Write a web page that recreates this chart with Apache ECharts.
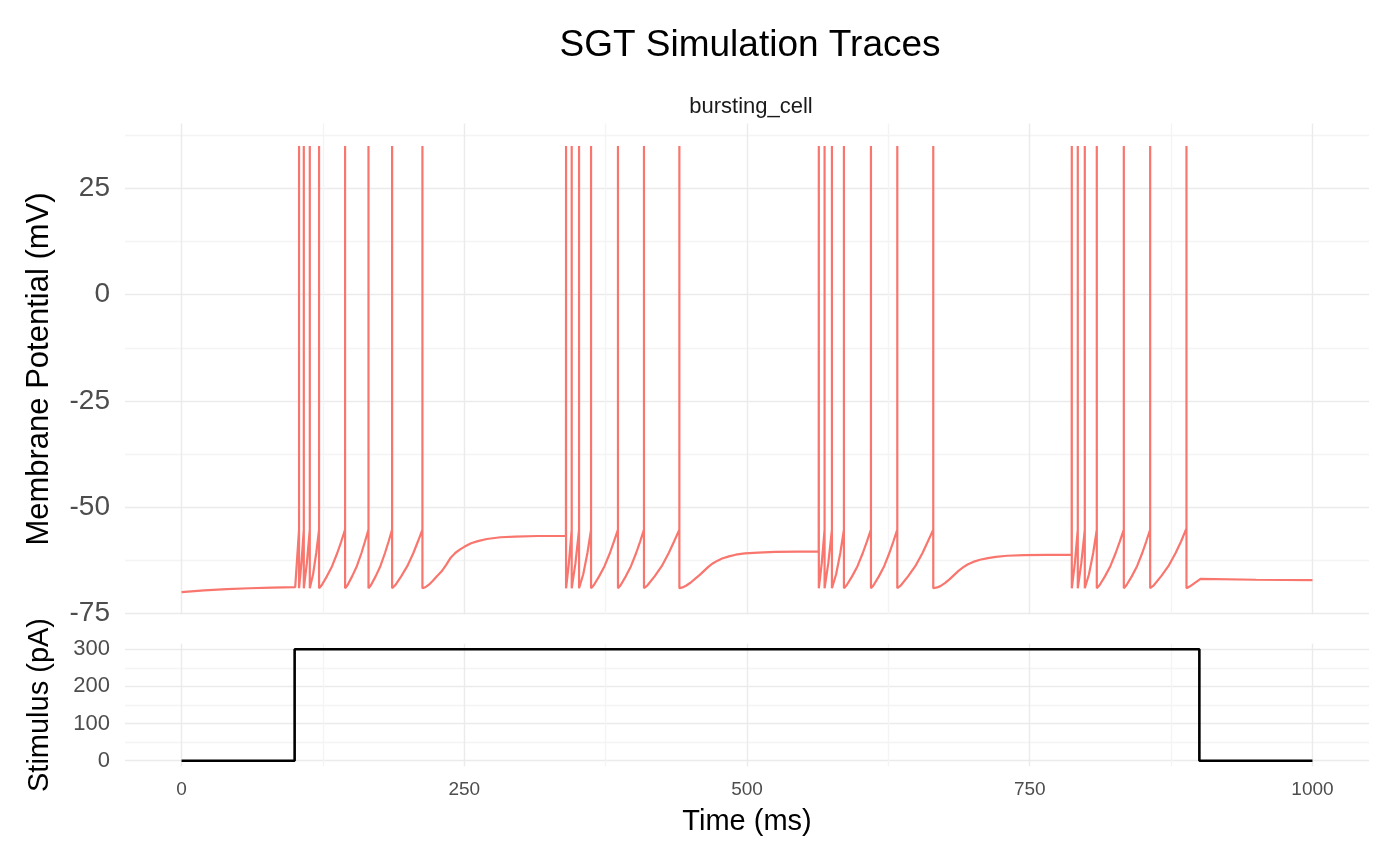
<!DOCTYPE html>
<html>
<head>
<meta charset="utf-8">
<title>SGT Simulation Traces</title>
<script src="https://cdn.jsdelivr.net/npm/echarts@6/dist/echarts.min.js"></script>
<style>
  html, body { margin: 0; padding: 0; background: #fff; }
  #chart { width: 1400px; height: 865px; }
</style>
</head>
<body>
<div id="chart"></div>
<script>
// membrane potential trace, [time ms, mV]
var preStim = [[0, -70.0], [20, -69.6], [40, -69.3], [60, -69.1], [80, -68.95], [100.5, -68.85]];

var burst1 = [
    [103.9, -55.3], [103.9, 35], [103.9, -69.1],
    [106.0, -63.2], [108.1, -55.3], [108.1, 35], [108.1, -69.1],
    [110.8, -63.2], [113.4, -55.3], [113.4, 35], [113.4, -69.1],
    [116.3, -65.8], [119.1, -60.8], [121.6, -55.3], [121.6, 35], [121.6, -69.1],
    [123.9, -68.4], [128.5, -66.3], [133.1, -63.9], [137.7, -60.8], [141.2, -58.1],
    [144.6, -55.3], [144.6, 35], [144.6, -69.1],
    [146.7, -68.4], [150.8, -66.3], [155.0, -63.9], [159.1, -60.8], [162.2, -58.1],
    [165.3, -55.3], [165.3, 35], [165.3, -69.1],
    [167.4, -68.4], [171.6, -66.3], [175.8, -63.9], [179.9, -60.8], [183.1, -58.1],
    [186.2, -55.3], [186.2, 35], [186.2, -69.1],
    [188.9, -68.4], [194.2, -66.3], [199.6, -63.9], [205.0, -60.8], [209.0, -58.1],
    [213.0, -55.3], [213.0, 35], [213.0, -69.1]
];
var recovery1 = [[216, -68.8], [219, -68.2], [222, -67.4], [226, -66.2], [230, -65.1],
    [234, -63.6], [238, -61.9], [242, -60.8], [246, -60.0], [250, -59.35], [256, -58.5],
    [262, -58.0], [270, -57.5], [282, -57.1], [295, -56.95], [315, -56.8], [339.9, -56.8]];

var burst2 = [
    [340.0, 35], [340.0, -69.1],
    [342.5, -63.2], [345.0, -55.3], [345.0, 35], [345.0, -69.1],
    [348.3, -63.2], [351.5, -55.3], [351.5, 35], [351.5, -69.1],
    [355.2, -65.8], [358.9, -60.8], [362.1, -55.3], [362.1, 35], [362.1, -69.1],
    [364.5, -68.4], [369.2, -66.3], [374.0, -63.9], [378.8, -60.8], [382.3, -58.1],
    [385.9, -55.3], [385.9, 35], [385.9, -69.1],
    [388.2, -68.4], [392.8, -66.3], [397.4, -63.9], [402.0, -60.8], [405.5, -58.1],
    [408.9, -55.3], [408.9, 35], [408.9, -69.1],
    [412.0, -68.4], [418.3, -66.3], [424.6, -63.9], [430.8, -60.8], [435.5, -58.1],
    [440.2, -55.3], [440.2, 35], [440.2, -69.1]
];
var recovery2 = [[443, -68.9], [446, -68.5], [450, -67.8], [454, -66.9], [458, -66.0],
    [462, -65.0], [466, -64.0], [470, -63.2], [474, -62.6], [478, -62.1], [484, -61.6],
    [490, -61.2], [498, -60.9], [510, -60.7], [525, -60.55], [545, -60.5], [563.4, -60.5]];

var burst3 = [
    [563.5, 35], [563.5, -69.1],
    [566.1, -63.2], [568.6, -55.3], [568.6, 35], [568.6, -69.1],
    [571.9, -63.2], [575.1, -55.3], [575.1, 35], [575.1, -69.1],
    [578.8, -65.8], [582.5, -60.8], [585.7, -55.3], [585.7, 35], [585.7, -69.1],
    [588.1, -68.4], [592.9, -66.3], [597.7, -63.9], [602.4, -60.8], [606.0, -58.1],
    [609.6, -55.3], [609.6, 35], [609.6, -69.1],
    [611.9, -68.4], [616.6, -66.3], [621.3, -63.9], [625.9, -60.8], [629.4, -58.1],
    [632.9, -55.3], [632.9, 35], [632.9, -69.1],
    [636.1, -68.4], [642.4, -66.3], [648.8, -63.9], [655.2, -60.8], [659.9, -58.1],
    [664.7, -55.3], [664.7, 35], [664.7, -69.1]
];
var recovery3 = [[668, -68.9], [671, -68.6], [675, -67.9], [679, -67.0], [683, -66.0],
    [687, -65.0], [691, -64.2], [695, -63.5], [700, -62.9], [706, -62.4], [713, -62.0],
    [720, -61.7], [730, -61.45], [745, -61.3], [765, -61.25], [787.1, -61.25]];

var burst4 = [
    [787.2, 35], [787.2, -69.1],
    [789.9, -63.2], [792.5, -55.3], [792.5, 35], [792.5, -69.1],
    [795.6, -63.2], [798.7, -55.3], [798.7, 35], [798.7, -69.1],
    [802.4, -65.8], [806.1, -60.8], [809.3, -55.3], [809.3, 35], [809.3, -69.1],
    [811.7, -68.4], [816.5, -66.3], [821.3, -63.9], [826.0, -60.8], [829.6, -58.1],
    [833.2, -55.3], [833.2, 35], [833.2, -69.1],
    [835.5, -68.4], [840.2, -66.3], [844.9, -63.9], [849.5, -60.8], [853.0, -58.1],
    [856.5, -55.3], [856.5, 35], [856.5, -69.1],
    [859.7, -68.4], [866.1, -66.3], [872.6, -63.9], [879.0, -60.8], [883.8, -58.1],
    [888.6, -55.0], [888.6, 35], [888.6, -69.1]
];
var tail = [[891.4, -68.7], [901, -66.9], [950, -67.1], [1000, -67.2]];

// stimulus current (pA)
var stimTime = [0, 100, 100, 900, 900, 1000];
var stimAmp = [0, 0, 300, 300, 0, 0];

// breaks: majors get labels, every break gets a grid line
var xGrid = [0, 125, 250, 375, 500, 625, 750, 875, 1000];
var xLabels = [0, 250, 500, 750, 1000];
var vGrid = [-75, -62.5, -50, -37.5, -25, -12.5, 0, 12.5, 25, 37.5];
var vLabels = [-75, -50, -25, 0, 25];
var sGrid = [0, 50, 100, 150, 200, 250, 300];
var sLabels = [0, 100, 200, 300];

var font = '"Liberation Sans", Arial, Helvetica, sans-serif';
var gridColors = ['#EBEBEB', '#F4F4F4'];

var membrane = [].concat(preStim, burst1, recovery1, burst2, recovery2, burst3, recovery3, burst4, tail);
var stimulus = [];
for (var i = 0; i < stimTime.length; i++) {
    stimulus.push([stimTime[i], stimAmp[i]]);
}

var dom = document.getElementById('chart');
var myChart = echarts.init(dom);

var option = {
    animation: false,
    backgroundColor: '#fff',
    textStyle: { fontFamily: font },
    title: [
        {
            text: 'SGT Simulation Traces',
            left: 745, top: 22, textAlign: 'center',
            textStyle: { fontFamily: font, fontSize: 37, fontWeight: 'normal', color: '#000' }
        },
        {
            text: 'bursting_cell',
            left: 746, top: 91, textAlign: 'center',
            textStyle: { fontFamily: font, fontSize: 22, fontWeight: 'normal', color: '#1A1A1A' }
        }
    ],
    grid: [
        { left: 125, right: 31, top: 123.6, height: 490.8 },
        { left: 125, right: 31, top: 643.7, height: 122.6 }
    ],
    xAxis: [
        {
            gridIndex: 0, type: 'value', min: -50, max: 1050,
            axisLine: { show: false },
            axisTick: { show: false, customValues: xGrid },
            axisLabel: { show: false },
            splitLine: { show: true, lineStyle: { color: gridColors, width: 1.4 } }
        },
        {
            gridIndex: 1, type: 'value', min: -50, max: 1050,
            axisLine: { show: false },
            axisTick: { show: false, customValues: xGrid },
            axisLabel: { show: true, customValues: xLabels, margin: 14,
                formatter: function (v) { return String(v); },
                fontFamily: font, fontSize: 19, color: '#4D4D4D' },
            splitLine: { show: true, lineStyle: { color: gridColors, width: 1.4 } },
            name: 'Time (ms)', nameLocation: 'middle', nameGap: 41,
            nameTextStyle: { fontFamily: font, fontSize: 29, color: '#000' }
        }
    ],
    yAxis: [
        {
            gridIndex: 0, type: 'value', min: -75.25, max: 40.25,
            axisLine: { show: false },
            axisTick: { show: false, customValues: vGrid },
            axisLabel: { customValues: vLabels, margin: 15,
                fontFamily: font, fontSize: 28, color: '#4D4D4D' },
            splitLine: { show: true, lineStyle: { color: gridColors, width: 1.4 } },
            name: 'Membrane Potential (mV)', nameLocation: 'middle', nameGap: 70,
            nameTextStyle: { fontFamily: font, fontSize: 31, color: '#000' }
        },
        {
            gridIndex: 1, type: 'value', min: -15, max: 315,
            axisLine: { show: false },
            axisTick: { show: false, customValues: sGrid },
            axisLabel: { customValues: sLabels, margin: 15,
                fontFamily: font, fontSize: 22, color: '#4D4D4D' },
            splitLine: { show: true, lineStyle: { color: gridColors, width: 1.4 } },
            name: 'Stimulus (pA)', nameLocation: 'middle', nameGap: 71,
            nameTextStyle: { fontFamily: font, fontSize: 29, color: '#000' }
        }
    ],
    series: [
        {
            name: 'bursting_cell', type: 'line',
            xAxisIndex: 0, yAxisIndex: 0,
            data: membrane,
            showSymbol: false, symbol: 'none', smooth: false,
            lineStyle: { color: '#F8766D', width: 2.2 },
            z: 3
        },
        {
            name: 'stimulus', type: 'line',
            xAxisIndex: 1, yAxisIndex: 1,
            data: stimulus,
            showSymbol: false, symbol: 'none',
            lineStyle: { color: '#000000', width: 2.6 },
            z: 3
        }
    ]
};

myChart.setOption(option);
window.onresize = myChart.resize;
</script>
</body>
</html>
